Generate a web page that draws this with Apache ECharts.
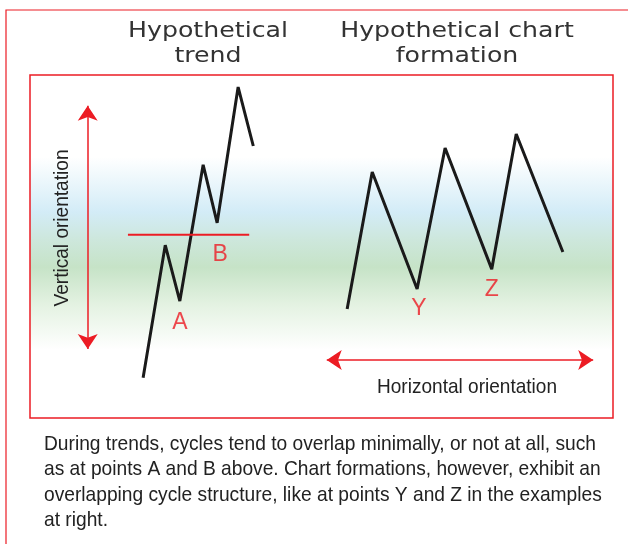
<!DOCTYPE html>
<html>
<head>
<meta charset="utf-8">
<script src="https://cdn.jsdelivr.net/npm/echarts@6/dist/echarts.min.js"></script>
<style>
  html, body { margin: 0; padding: 0; background: #fff; }
  #main { width: 628px; height: 544px; }
</style>
</head>
<body>
<div id="main"></div>
<script>
  // time runs 0..100 across the panel, price 0..100 bottom to top
  const trendX = [19.4, 23.2, 25.7, 29.7, 32.1, 35.7, 38.3];
  const trendY = [11.7, 50.4, 34.1, 73.8, 56.9, 96.5, 79.3];

  const formX = [54.4, 58.7, 66.4, 71.2, 79.2, 83.4, 91.4];
  const formY = [31.8, 71.7, 37.6, 78.7, 43.4, 82.8, 48.4];

  // level of peak B, drawn as a red horizontal line
  const levelX = [16.8, 37.6];
  const levelY = 53.4;

  const pointNames = ["A", "B", "Y", "Z"];
  const pointX = [25.7, 32.6, 66.7, 79.2];
  const pointY = [27.7, 47.5, 31.8, 37.3];

  // orientation arrows
  const vArrowX = 9.9;
  const vArrowY = [20.1, 91.0];
  const hArrowX = [50.9, 96.6];
  const hArrowY = 16.9;

  const captionLines = [
    "During trends, cycles tend to overlap minimally, or not at all, such",
    "as at points A and B above. Chart formations, however, exhibit an",
    "overlapping cycle structure, like at points Y and Z in the examples",
    "at right."
  ];

  const RED = "#ec1c24";
  const SANS = "'Liberation Sans', Arial, sans-serif";

  function zip(xs, ys) {
    return xs.map((x, i) => [x, ys[i]]);
  }

  // horizontal squeeze so a regular sans reads like the narrow face of the original
  let measureCtx = document.createElement("canvas").getContext("2d");
  function squeeze(text, size, family, targetWidth) {
    measureCtx.font = size + "px " + family;
    return targetWidth / measureCtx.measureText(text).width;
  }

  let chart = echarts.init(document.getElementById("main"));

  let bg = new echarts.graphic.LinearGradient(0, 0, 0, 1, [
    { offset: 0, color: "#ffffff" },
    { offset: 0.24, color: "#ffffff" },
    { offset: 0.4, color: "#d3ecf7" },
    { offset: 0.48, color: "#cde7dc" },
    { offset: 0.56, color: "#c6e3c7" },
    { offset: 0.67, color: "#e4f2e2" },
    { offset: 0.8, color: "#ffffff" },
    { offset: 1, color: "#ffffff" }
  ]);

  let capScale = squeeze(captionLines[0], 21, SANS, 552);
  let hScale = squeeze("Horizontal orientation", 21, SANS, 180);
  let vScale = squeeze("Vertical orientation", 21, SANS, 157);
  let titleScale = squeeze("Hypothetical", 22, "DejaVu Sans", 160);

  let option = {
    animation: false,
    grid: {
      left: 30,
      top: 75,
      width: 583,
      height: 343,
      show: true,
      backgroundColor: bg,
      borderColor: RED,
      borderWidth: 1.5
    },
    xAxis: { type: "value", min: 0, max: 100, show: false },
    yAxis: { type: "value", min: 0, max: 100, show: false },
    graphic: [
      {
        type: "rect",
        shape: { x: 6, y: 10, width: 700, height: 600 },
        style: { fill: "none", stroke: RED, lineWidth: 1.2 },
        silent: true
      },
      {
        type: "text",
        x: 208,
        y: 44,
        scaleX: titleScale,
        style: {
          text: "Hypothetical\ntrend",
          align: "center",
          verticalAlign: "middle",
          fontFamily: "DejaVu Sans",
          fontSize: 22,
          lineHeight: 25,
          fill: "#333"
        }
      },
      {
        type: "text",
        x: 457,
        y: 44,
        scaleX: titleScale,
        style: {
          text: "Hypothetical chart\nformation",
          align: "center",
          verticalAlign: "middle",
          fontFamily: "DejaVu Sans",
          fontSize: 22,
          lineHeight: 25,
          fill: "#333"
        }
      },
      {
        type: "text",
        x: 62,
        y: 228,
        rotation: Math.PI / 2,
        scaleX: vScale,
        style: {
          text: "Vertical orientation",
          align: "center",
          verticalAlign: "middle",
          fontFamily: SANS,
          fontSize: 21,
          fill: "#222"
        }
      },
      {
        type: "text",
        x: 467,
        y: 387,
        scaleX: hScale,
        style: {
          text: "Horizontal orientation",
          align: "center",
          verticalAlign: "middle",
          fontFamily: SANS,
          fontSize: 21,
          fill: "#222"
        }
      },
      {
        type: "text",
        x: 44,
        y: 431,
        scaleX: capScale,
        style: {
          text: captionLines.join("\n"),
          align: "left",
          verticalAlign: "top",
          fontFamily: SANS,
          fontSize: 21,
          lineHeight: 25.5,
          fill: "#222"
        }
      }
    ],
    series: [
      {
        type: "line",
        data: zip(trendX, trendY),
        symbol: "none",
        lineStyle: { color: "#1a1a1a", width: 3 }
      },
      {
        type: "line",
        data: zip(formX, formY),
        symbol: "none",
        lineStyle: { color: "#1a1a1a", width: 3 }
      },
      {
        type: "line",
        data: levelX.map((x) => [x, levelY]),
        symbol: "none",
        lineStyle: { color: RED, width: 2 }
      },
      {
        type: "lines",
        coordinateSystem: "cartesian2d",
        symbol: ["arrow", "arrow"],
        symbolSize: 15,
        lineStyle: { color: RED, width: 1.5, opacity: 1 },
        data: [
          { coords: [[vArrowX, vArrowY[0]], [vArrowX, vArrowY[1]]] },
          { coords: [[hArrowX[0], hArrowY], [hArrowX[1], hArrowY]] }
        ]
      },
      {
        type: "scatter",
        symbolSize: 0,
        data: pointNames.map((n, i) => ({ name: n, value: [pointX[i], pointY[i]] })),
        label: {
          show: true,
          position: "inside",
          formatter: "{b}",
          color: RED,
          fontFamily: SANS,
          fontSize: 23
        }
      }
    ]
  };

  chart.setOption(option);
</script>
</body>
</html>
